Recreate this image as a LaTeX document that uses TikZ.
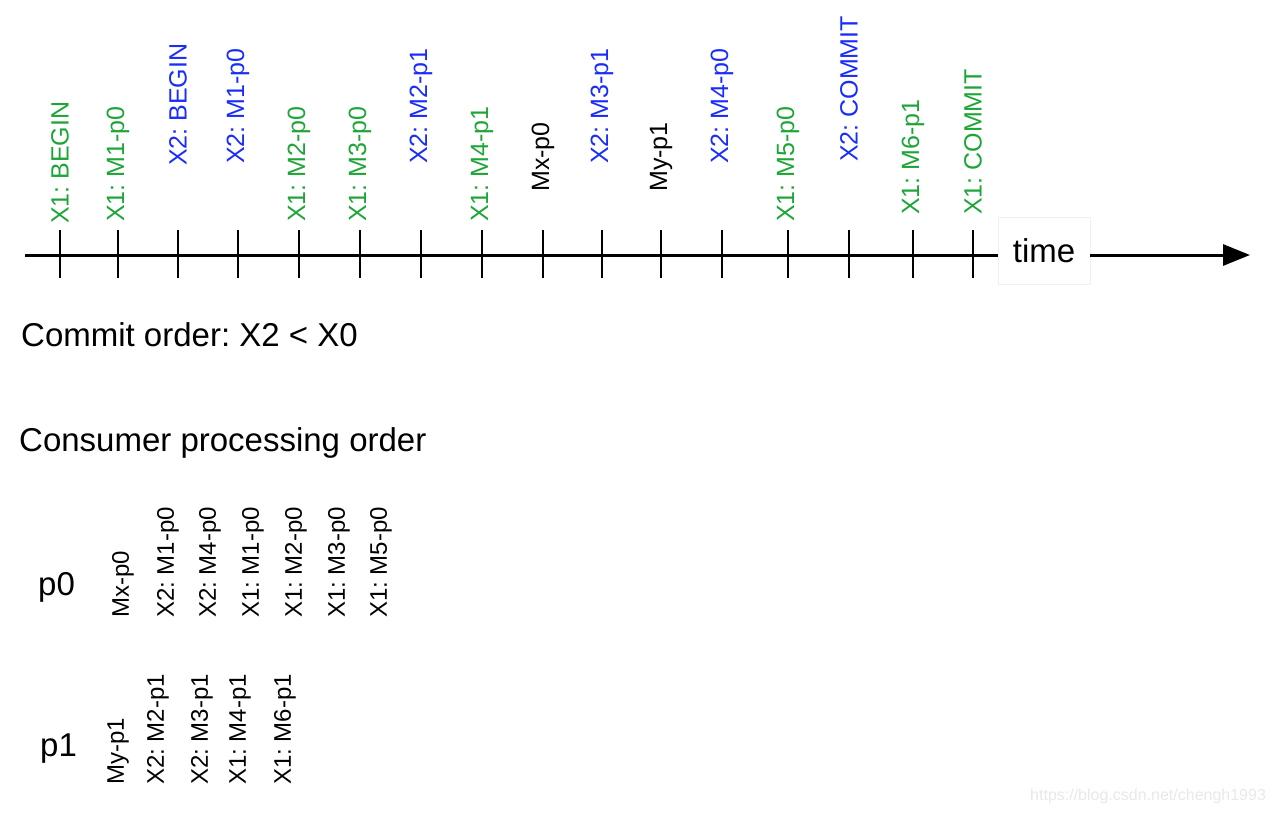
\documentclass[tikz,border=0pt]{standalone}
\usepackage{fontspec}
\setmainfont{Liberation Sans}
\usepackage{tikz}
\usetikzlibrary{arrows.meta,positioning}
\frenchspacing

\definecolor{txgreen}{RGB}{30,165,55}
\definecolor{txblue}{RGB}{25,45,250}

\begin{document}
\begin{tikzpicture}[x=1pt, y=-1pt,
  big/.style   ={inner sep=0pt, font=\fontsize{33}{40}\selectfont},
  ev/.style    ={rotate=90, anchor=west, inner sep=0pt,
                 font=\fontsize{25}{30}\selectfont},
  evone/.style ={ev, text=txgreen},
  evtwo/.style ={ev, text=txblue},
  evout/.style ={ev, text=black},
  msg/.style   ={rotate=90, anchor=west, inner sep=0pt,
                 font=\fontsize{24}{29}\selectfont},
  axis/.style  ={line width=3pt, black},
  tick/.style  ={line width=2.8pt, black},
]
\useasboundingbox (0,0) rectangle (1272,815);

% === Time axis ===
\coordinate (axstart) at (25,255);
\coordinate (axend) at (1250,255);
\node[big, draw=black!6, fill=white, minimum width=92pt, minimum height=67pt]
  (time) at (1044,251) {time};
\draw[axis] (axstart) -- (axstart -| time.west);
\draw[axis, -{Triangle[length=27pt, width=21pt]}] (axend -| time.east) -- (axend);

\foreach \x [count=\i] in {60,118,178,238,299,360,421,482,543,602,661,722,788,849,913,973}
  \draw[tick] (\x,230) -- (\x,278) coordinate (t\i);

% === Events ===
\node[evone] (e1)  at (60,224)  {X1: BEGIN};
\node[evone] (e2)  at (118,222) {X1: M1-p0};
\node[evtwo] (e3)  at (178,166) {X2: BEGIN};
\node[evtwo] (e4)  at (238,164) {X2: M1-p0};
\node[evone] (e5)  at (299,222) {X1: M2-p0};
\node[evone] (e6)  at (360,222) {X1: M3-p0};
\node[evtwo] (e7)  at (421,164) {X2: M2-p1};
\node[evone] (e8)  at (482,222) {X1: M4-p1};
\node[evout] (e9)  at (543,192) {Mx-p0};
\node[evtwo] (e10) at (602,164) {X2: M3-p1};
\node[evout] (e11) at (661,192) {My-p1};
\node[evtwo] (e12) at (722,164) {X2: M4-p0};
\node[evone] (e13) at (788,222) {X1: M5-p0};
\node[evtwo] (e14) at (849,162) {X2: COMMIT};
\node[evone] (e15) at (913,215) {X1: M6-p1};
\node[evone] (e16) at (973,215) {X1: COMMIT};

% === Orders ===
\node[big, anchor=base west] (commit) at (21,346) {Commit order: X2 < X0};
\node[big, anchor=base west] (consumer) at (19,451) {Consumer processing order};

\node[big, anchor=base west] (p0) at (38,595) {p0};
\node[msg] (a1) at (123,618) {Mx-p0};
\node[msg] (a2) at (168,618) {X2: M1-p0};
\node[msg] (a3) at (210,618) {X2: M4-p0};
\node[msg] (a4) at (253,618) {X1: M1-p0};
\node[msg] (a5) at (296,618) {X1: M2-p0};
\node[msg] (a6) at (339,618) {X1: M3-p0};
\node[msg] (a7) at (381,618) {X1: M5-p0};

\node[big, anchor=base west] (p1) at (40,756) {p1};
\node[msg] (b1) at (118,785) {My-p1};
\node[msg] (b2) at (158,785) {X2: M2-p1};
\node[msg] (b3) at (202,785) {X2: M3-p1};
\node[msg] (b4) at (240,785) {X1: M4-p1};
\node[msg] (b5) at (285,785) {X1: M6-p1};

% watermark
\node[anchor=west, inner sep=0pt, text=black!9, font=\fontsize{16}{19}\selectfont]
  (mark) at (1030,796) {https://blog.csdn.net/chengh1993};

\end{tikzpicture}
\end{document}
